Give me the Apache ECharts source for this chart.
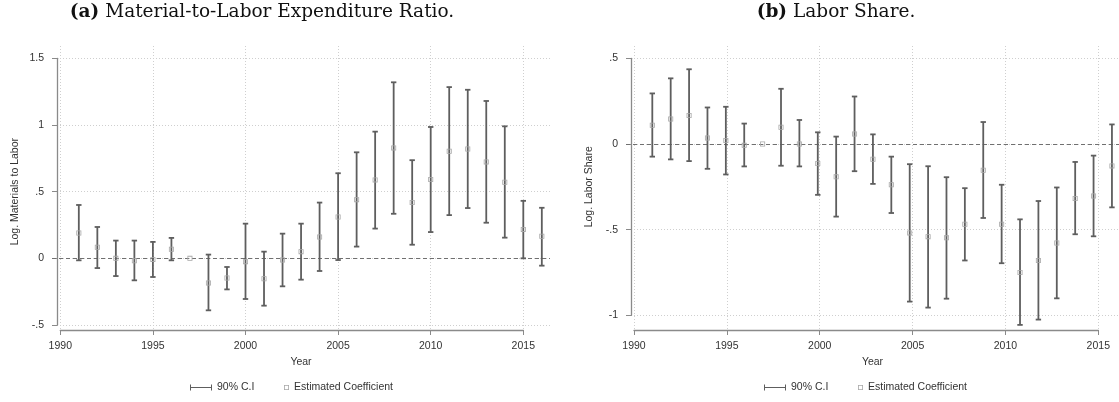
<!DOCTYPE html>
<html>
<head>
<meta charset="utf-8">
<script src="https://cdn.jsdelivr.net/npm/echarts@6/dist/echarts.min.js"></script>
<style>
html,body{margin:0;padding:0;background:#fff;}
#chart{width:1119px;height:402px;}
</style>
</head>
<body>
<div id="chart"></div>
<script>
// ---------- data ----------
const years = [1991,1992,1993,1994,1995,1996,1997,1998,1999,2000,2001,2002,2003,2004,2005,2006,2007,2008,2009,2010,2011,2012,2013,2014,2015,2016];

// Panel (a): Log. Materials to Labor
const matCoef = [0.19,0.083,0.0,-0.018,-0.008,0.068,0,-0.185,-0.148,-0.025,-0.153,-0.013,0.05,0.16,0.31,0.44,0.588,0.828,0.419,0.591,0.803,0.82,0.723,0.571,0.217,0.165];
const matLo   = [-0.015,-0.073,-0.133,-0.165,-0.14,-0.015,null,-0.39,-0.233,-0.305,-0.355,-0.21,-0.16,-0.095,-0.013,0.088,0.223,0.334,0.102,0.197,0.324,0.377,0.267,0.155,0.0,-0.055];
const matHi   = [0.40,0.235,0.133,0.133,0.123,0.153,null,0.028,-0.065,0.26,0.05,0.185,0.26,0.418,0.638,0.795,0.95,1.32,0.736,0.985,1.284,1.264,1.18,0.99,0.431,0.379];

// Panel (b): Log. Labor Share
const labCoef = [0.109,0.146,0.166,0.035,0.02,-0.008,0,0.098,0.0,-0.114,-0.192,0.058,-0.089,-0.238,-0.519,-0.541,-0.548,-0.469,-0.153,-0.469,-0.75,-0.68,-0.578,-0.318,-0.304,-0.128];
const labLo   = [-0.074,-0.09,-0.10,-0.145,-0.178,-0.131,null,-0.127,-0.131,-0.297,-0.424,-0.159,-0.233,-0.403,-0.92,-0.955,-0.903,-0.68,-0.432,-0.696,-1.056,-1.025,-0.901,-0.527,-0.539,-0.37];
const labHi   = [0.295,0.383,0.436,0.213,0.217,0.119,null,0.322,0.14,0.068,0.043,0.277,0.056,-0.074,-0.118,-0.13,-0.194,-0.258,0.128,-0.238,-0.44,-0.333,-0.254,-0.105,-0.068,0.114];

const xTicks = [1990, 2015];       // tick range of the x axes, step 5
const matTicks = [-0.5, 1.5];      // tick range panel (a), step 0.5
const labTicks = [-1, 0.5];        // tick range panel (b), step 0.5

const titleA = 'Material-to-Labor Expenditure Ratio.';
const titleB = 'Labor Share.';
const yNameA = 'Log. Materials to Labor';
const yNameB = 'Log. Labor Share';
const xName = 'Year';
const ciName = '90% C.I';
const ptName = 'Estimated Coefficient';

// ---------- styles ----------
const FONT = 'Liberation Sans';
const FS = 10.5;
const AXIS_COLOR = '#8a8a8a';
const BAR_COLOR = '#5e5e5e';
const PT_COLOR = '#a8a8a8';
const GRID_COLOR = '#cfcfcf';
const squarePath = 'path://M0,0H10V10H0Z M1.6,1.6V8.4H8.4V1.6Z';
const ciPath = 'path://M0,0H1V6H0Z M0,2.6H22V3.4H0Z M21,0H22V6H21Z';

function stataFmt(v){
  if (Math.abs(v) < 1e-9) return '0';
  let s = String(Math.round(v*100)/100);
  return s.replace(/^(-?)0\./, '$1.');
}

function ciData(lo, hi){
  const out = [];
  years.forEach((y,i)=>{ if (lo[i] != null && hi[i] != null) out.push([y, lo[i], hi[i]]); });
  return out;
}

function renderCI(params, api){
  const x = api.value(0), lo = api.value(1), hi = api.value(2);
  const p1 = api.coord([x, hi]);
  const p2 = api.coord([x, lo]);
  const w = 2.7;
  const st = {stroke: BAR_COLOR, lineWidth: 1.8, fill: null};
  return {type:'group', children:[
    {type:'line', shape:{x1:p1[0], y1:p1[1], x2:p2[0], y2:p2[1]}, style: st},
    {type:'line', shape:{x1:p1[0]-w, y1:p1[1], x2:p1[0]+w, y2:p1[1]}, style: st},
    {type:'line', shape:{x1:p2[0]-w, y1:p2[1], x2:p2[0]+w, y2:p2[1]}, style: st}
  ]};
}

// panel layouts (pixels)
const P = [
  {plotLeft:52, plotTop:46, plotW:498, plotH:285, x1990:60.3, pxYear:18.52, yTopPx:58.3, yBotPx:325.0, ticks:matTicks, yName:yNameA,
   coef:matCoef, lo:matLo, hi:matHi, title:'(a)', titleText:titleA, titleX:262, legendX:190},
  {plotLeft:626, plotTop:46, plotW:498, plotH:285, x1990:634, pxYear:18.572, yTopPx:58.3, yBotPx:315.3, ticks:labTicks, yName:yNameB,
   coef:labCoef, lo:labLo, hi:labHi, title:'(b)', titleText:titleB, titleX:836, legendX:764}
];

const grid = [], xAxis = [], yAxis = [], series = [], legend = [], graphic = [];
const hidden = {type:'value', show:false, min:0, max:1};
const labelStyle = {fontFamily: FONT, fontSize: FS, color: '#333'};

P.forEach((p, k)=>{
  const g0 = grid.length;
  const pxUnit = (p.yBotPx - p.yTopPx) / (p.ticks[1] - p.ticks[0]);
  const yMax = p.ticks[1] + (p.yTopPx - p.plotTop) / pxUnit;
  const yMin = p.ticks[0] - (p.plotTop + p.plotH - p.yBotPx) / pxUnit;
  const xMin = xTicks[0] - (p.x1990 - p.plotLeft) / p.pxYear;
  const xMax = xMin + p.plotW / p.pxYear;

  // Grid A: data
  grid.push({left:p.plotLeft, top:p.plotTop, width:p.plotW, height:p.plotH, containLabel:false});
  xAxis.push({gridIndex:g0, type:'value', min:xMin, max:xMax,
    axisLine:{show:false}, axisTick:{show:false}, axisLabel:{show:false}, splitLine:{show:false},
    name:xName, nameLocation:'middle', nameGap:26, nameTextStyle:labelStyle});
  yAxis.push({gridIndex:g0, type:'value', min:yMin, max:yMax,
    axisLine:{show:false}, axisTick:{show:false}, axisLabel:{show:false}, splitLine:{show:false}});

  // Grid B: y axis over tick range
  grid.push({left:p.plotLeft+5, top:p.yTopPx, width:p.plotW-5, height:p.yBotPx-p.yTopPx});
  xAxis.push(Object.assign({gridIndex:g0+1}, hidden));
  yAxis.push({gridIndex:g0+1, type:'value', min:p.ticks[0], max:p.ticks[1], interval:0.5, offset:5,
    axisLine:{show:true, lineStyle:{color:AXIS_COLOR, width:1.3}},
    axisTick:{show:true, length:5, lineStyle:{color:AXIS_COLOR, width:1}},
    axisLabel:Object.assign({show:true, margin:8, formatter: stataFmt}, labelStyle),
    splitLine:{show:true, lineStyle:{color:GRID_COLOR, type:[1,2], width:1}},
    name:p.yName, nameLocation:'middle', nameGap:31, nameTextStyle:labelStyle});

  // Grid C: x axis over tick range
  grid.push({left:p.x1990, top:p.plotTop, width:(xTicks[1]-xTicks[0])*p.pxYear, height:p.plotH-1});
  xAxis.push({gridIndex:g0+2, type:'value', min:xTicks[0], max:xTicks[1], interval:5, offset:3,
    axisLine:{show:true, lineStyle:{color:AXIS_COLOR, width:1.3}},
    axisTick:{show:true, length:5, lineStyle:{color:AXIS_COLOR, width:1}},
    axisLabel:Object.assign({show:true, margin:8, formatter: v => String(v)}, labelStyle),
    splitLine:{show:true, lineStyle:{color:GRID_COLOR, type:[1,2], width:1}}});
  yAxis.push(Object.assign({gridIndex:g0+2}, hidden));

  // series
  series.push({type:'custom', name:ciName, xAxisIndex:g0, yAxisIndex:g0,
    itemStyle:{color:BAR_COLOR}, renderItem:renderCI, encode:{x:0, y:[1,2]},
    data:ciData(p.lo, p.hi), z:3, silent:true});
  series.push({type:'scatter', name:ptName, xAxisIndex:g0, yAxisIndex:g0,
    symbol:squarePath, symbolSize:5, itemStyle:{color:PT_COLOR, opacity:1},
    data: years.map((y,i)=>[y, p.coef[i]]), z:4, silent:true,
    markLine:{silent:true, symbol:['none','none'], label:{show:false}, z:2,
      lineStyle:{color:'#707070', type:[4,3], width:1.2},
      data:[{yAxis:0}]}});

  // legends
  legend.push({left:p.legendX, top:382, orient:'horizontal', itemWidth:22, itemHeight:6,
    data:[{name:ciName, icon:ciPath}], textStyle:labelStyle, selectedMode:false, padding:0});
  legend.push({left:p.legendX+94, top:382, orient:'horizontal', itemWidth:5, itemHeight:5,
    data:[{name:ptName, icon:squarePath}], textStyle:labelStyle, selectedMode:false, padding:0});

  // title
  graphic.push({type:'text', x:p.titleX, y:12.5, silent:true, style:{
    text:'{b|' + p.title + '} ' + p.titleText, align:'center', verticalAlign:'middle',
    fontFamily:'DejaVu Serif', fontSize:18.5, fill:'#111',
    rich:{b:{fontFamily:'DejaVu Serif', fontSize:18.5, fontWeight:'bold', fill:'#111'}}}});
});

const chart = echarts.init(document.getElementById('chart'), null, {renderer:'canvas'});
chart.setOption({animation:false, backgroundColor:'#fff', grid, xAxis, yAxis, series, legend, graphic});
</script>
</body>
</html>
